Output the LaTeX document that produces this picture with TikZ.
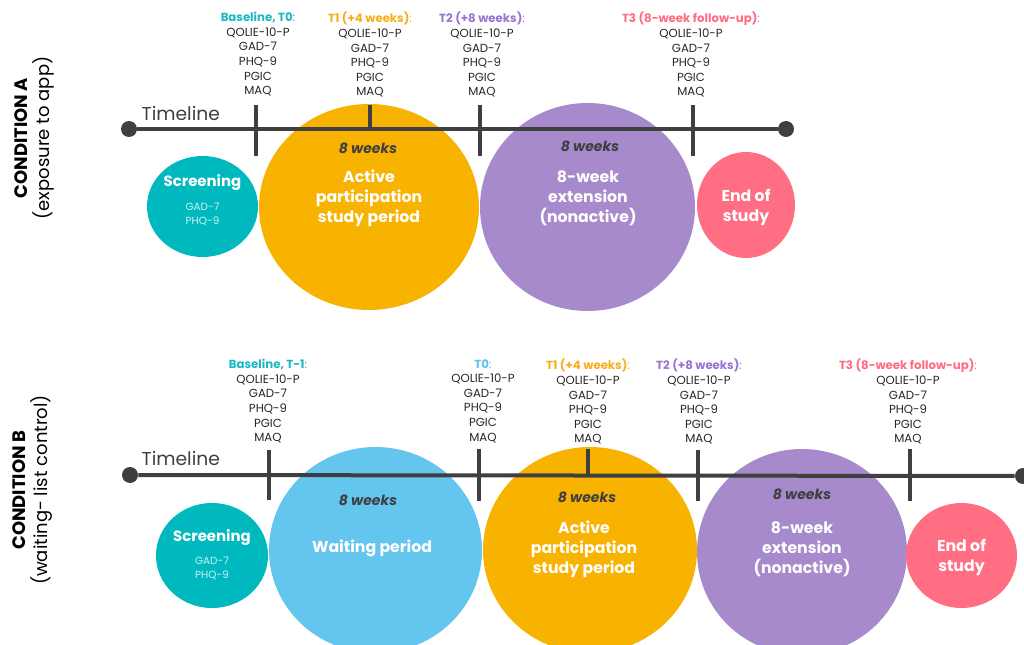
\documentclass[tikz,border=0pt]{standalone}
\usepackage{fontspec}
\setmainfont{Poppins}
\usetikzlibrary{shapes.geometric}
\definecolor{cteal}{HTML}{00B9BF}
\definecolor{cyel}{HTML}{F8B200}
\definecolor{cpur}{HTML}{A78ACC}
\definecolor{cpink}{HTML}{FF6E82}
\definecolor{cblue}{HTML}{64C5EE}
\definecolor{cline}{HTML}{3F3E41}
\definecolor{hteal}{HTML}{1CB8C2}
\definecolor{hyel}{HTML}{F7AE1A}
\definecolor{hpur}{HTML}{9A72D2}
\definecolor{hpink}{HTML}{FF6B80}
\definecolor{hblue}{HTML}{5CC3EE}
\definecolor{smalltxt}{HTML}{C9F1F2}
\begin{document}
\begin{tikzpicture}[x=0.75pt,y=-0.75pt,
  blob/.style={ellipse, inner sep=0pt, draw=none},
  dot/.style={circle, fill=cline, inner sep=0pt, minimum size=12pt},
  tl/.style={line width=3pt, draw=cline},
  big/.style={font=\bfseries\fontsize{11.8}{15}\selectfont, text=white, align=center},
  wk/.style={font=\bfseries\itshape\fontsize{10.5}{12}\selectfont, text=cline},
  meas/.style={font=\fontsize{8.8}{10.95}\selectfont, align=center, anchor=north, text=black!85, inner sep=0pt},
  scr/.style={font=\bfseries\fontsize{11.2}{12}\selectfont, text=white},
  scrs/.style={font=\fontsize{7.8}{10.5}\selectfont, text=smalltxt, align=center},
  tline/.style={font=\fontsize{14}{16}\selectfont, text=cline},
  cond/.style={rotate=90, align=center, text=black, font=\fontsize{13.5}{16.5}\selectfont}
]
\useasboundingbox (0,0) rectangle (1024,645);

% ---------------- Condition A ----------------
\node[cond] (condA) at (34,138) {{\bfseries CONDITION A}\\(exposure to app)};

\node[blob, fill=cteal, minimum width=83.25pt, minimum height=75.75pt] (sA) at (202.5,206.5) {};
\node[blob, fill=cyel, minimum width=165pt, minimum height=154.5pt] (pA1) at (369,207) {};
\node[blob, fill=cpur, minimum width=161.25pt, minimum height=156pt] (pA2) at (587.5,207) {};
\node[blob, fill=cpink, minimum width=73.5pt, minimum height=79.5pt] (eA) at (746,205) {};

\node[dot] (dA1) at (129,129) {};
\node[dot] (dA2) at (786,129) {};
\draw[tl] (dA1) -- (dA2);
\draw[tl] (256,105) -- (256,156);
\draw[tl] (370,105) -- (370,129);
\draw[tl] (480,105) -- (480,156);
\draw[tl] (693,105) -- (693,156);
\node[tline, anchor=south west] (tlA) at (137,125) {Timeline};

\node[meas] (mA0) at (258,12) {{\bfseries\color{hteal}Baseline, T0}{\color{hteal}:}\\QOLIE-10-P\\GAD-7\\PHQ-9\\PGIC\\MAQ};
\node[meas] (mA1) at (370,12) {{\bfseries\color{hyel}T1 (+4 weeks)}{\color{hyel}:}\\QOLIE-10-P\\GAD-7\\PHQ-9\\PGIC\\MAQ};
\node[meas] (mA2) at (482,12) {{\bfseries\color{hpur}T2 (+8 weeks)}{\color{hpur}:}\\QOLIE-10-P\\GAD-7\\PHQ-9\\PGIC\\MAQ};
\node[meas] (mA3) at (691,12) {{\bfseries\color{hpink}T3 (8-week follow-up)}{\color{hpink}:}\\QOLIE-10-P\\GAD-7\\PHQ-9\\PGIC\\MAQ};

\node[scr] (sAt) at (202.5,183) {Screening};
\node[scrs] (sAs) at (202.5,214) {GAD-7\\PHQ-9};
\node[wk] (wA1) at (368,148) {8 weeks};
\node[big] (tA1) at (369,198) {Active\\participation\\study period};
\node[wk] (wA2) at (590,146) {8 weeks};
\node[big] (tA2) at (588,198) {8-week\\extension\\(nonactive)};
\node[big] (tA3) at (746,207) {End of\\study};

% ---------------- Condition B ----------------
\node[cond] (condB) at (33,490) {{\bfseries CONDITION B}\\(waiting- list control)};

\node[blob, fill=cteal, minimum width=84pt, minimum height=78.75pt] (sB) at (212,555.5) {};
\node[blob, fill=cblue, minimum width=159.75pt, minimum height=154.5pt] (pB0) at (375.5,550) {};
\node[blob, fill=cyel, minimum width=160.5pt, minimum height=154.5pt] (pB1) at (590,550) {};
\node[blob, fill=cpur, minimum width=157.5pt, minimum height=154.5pt] (pB2) at (802,552) {};
\node[blob, fill=cpink, minimum width=83.25pt, minimum height=78.75pt] (eB) at (961.5,555.5) {};

\node[dot] (dB1) at (130,475) {};
\node[dot] (dB2) at (1023,476) {};
\draw[tl] (dB1) -- (dB2);
\draw[tl] (269,450) -- (269,500);
\draw[tl] (479,449) -- (479,501);
\draw[tl] (588,449) -- (588,475);
\draw[tl] (698,450) -- (698,501);
\draw[tl] (910,449) -- (910,501);
\node[tline, anchor=south west] (tlB) at (137,470) {Timeline};

\node[meas] (mB0) at (268,359) {{\bfseries\color{hteal}Baseline, T-1}{\color{hteal}:}\\QOLIE-10-P\\GAD-7\\PHQ-9\\PGIC\\MAQ};
\node[meas] (mB1) at (483,359) {{\bfseries\color{hblue}T0}{\color{hblue}:}\\QOLIE-10-P\\GAD-7\\PHQ-9\\PGIC\\MAQ};
\node[meas] (mB2) at (588,359) {{\bfseries\color{hyel}T1 (+4 weeks)}{\color{hyel}:}\\QOLIE-10-P\\GAD-7\\PHQ-9\\PGIC\\MAQ};
\node[meas] (mB3) at (699,359) {{\bfseries\color{hpur}T2 (+8 weeks)}{\color{hpur}:}\\QOLIE-10-P\\GAD-7\\PHQ-9\\PGIC\\MAQ};
\node[meas] (mB4) at (908,359) {{\bfseries\color{hpink}T3 (8-week follow-up)}{\color{hpink}:}\\QOLIE-10-P\\GAD-7\\PHQ-9\\PGIC\\MAQ};

\node[scr] (sBt) at (212,538) {Screening};
\node[scrs] (sBs) at (212,568) {GAD-7\\PHQ-9};
\node[wk] (wB0) at (368,500) {8 weeks};
\node[big] (tB0) at (372,548) {Waiting period};
\node[wk] (wB1) at (587,497) {8 weeks};
\node[big] (tB1) at (584,549) {Active\\participation\\study period};
\node[wk] (wB2) at (802,494) {8 weeks};
\node[big] (tB2) at (802,549) {8-week\\extension\\(nonactive)};
\node[big] (tB3) at (961.5,557) {End of\\study};
\end{tikzpicture}
\end{document}
